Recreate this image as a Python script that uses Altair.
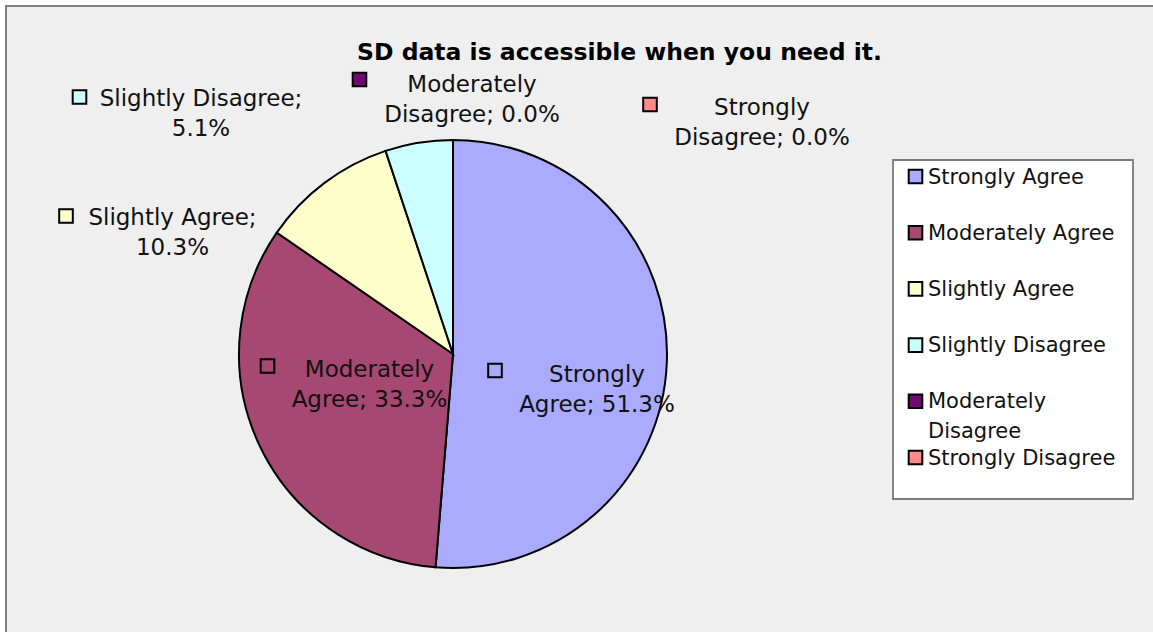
import altair as alt
import pandas as pd

# ---------------- data ----------------
categories = ["Strongly Agree", "Moderately Agree", "Slightly Agree",
              "Slightly Disagree", "Moderately Disagree", "Strongly Disagree"]
percents = [51.3, 33.3, 10.3, 5.1, 0.0, 0.0]
colors = ["#aaaaff", "#a64872", "#ffffcc", "#ccffff", "#6e0a70", "#ff8a8a"]
title_text = "SD data is accessible when you need it."

# ---------------- layout ----------------
W, H = 1153, 632
PIE_CX, PIE_CY, PIE_R = 453, 354, 214
FONT = "DejaVu Sans"
TEXT_COLOR = "#111111"
# words on the first line of each data label
label_break = [1, 1, 2, 2, 1, 1]
# per label: marker x, marker y, text centre x, first line y
label_pos = [
    (495, 370.5, 597, 375),
    (267.5, 366, 369.5, 369.5),
    (66, 216, 172.5, 218),
    (79.5, 97, 201, 99),
    (359.5, 79.5, 472, 84.5),
    (650, 104.5, 762, 108),
]
LINE_GAP = 30
LEG_BOX = (893, 160, 1133, 499)
LEG_SYM_X, LEG_TXT_X, LEG_Y0, LEG_STEP, LEG_LINE = 915.5, 928, 176.5, 56.2, 29.5
LEG_WRAP = {"Moderately Disagree": ["Moderately", "Disagree"]}
MARK_SIZE = 185

# ---------------- tables ----------------
pie_df = pd.DataFrame({"cat": categories, "pct": percents, "idx": list(range(len(categories)))})

marker_rows, line_rows = [], []
for i, (c, p) in enumerate(zip(categories, percents)):
    words = f"{c}; {p:.1f}%".split(" ")
    b = label_break[i]
    lines = [" ".join(words[:b]), " ".join(words[b:])]
    mx, my, tx, ty = label_pos[i]
    marker_rows.append({"cat": c, "mx": mx, "my": my})
    for k, ln in enumerate(lines):
        line_rows.append({"cat": c, "txt": ln, "tx": tx, "ty": ty + k * LINE_GAP})
marker_df = pd.DataFrame(marker_rows)
line_df = pd.DataFrame(line_rows)

leg_sym_rows, leg_txt_rows = [], []
for i, c in enumerate(categories):
    y = LEG_Y0 + i * LEG_STEP
    leg_sym_rows.append({"cat": c, "sx": LEG_SYM_X, "sy": y})
    for k, ln in enumerate(LEG_WRAP.get(c, [c])):
        leg_txt_rows.append({"txt": ln, "tx": LEG_TXT_X, "ty": y + 1 + k * LEG_LINE})
leg_sym_df = pd.DataFrame(leg_sym_rows)
leg_txt_df = pd.DataFrame(leg_txt_rows)

color_scale = alt.Scale(domain=categories, range=colors)
one = pd.DataFrame({"a": [0]})

frame = alt.Chart(one).mark_rect(fill="#efefef", stroke="#808080", strokeWidth=2).encode(
    x=alt.value(6), x2=alt.value(W + 20), y=alt.value(6), y2=alt.value(H + 20))

pie = alt.Chart(pie_df).mark_arc(outerRadius=PIE_R, stroke="#000000", strokeWidth=2).encode(
    theta=alt.Theta("pct:Q", stack=True),
    color=alt.Color("cat:N", scale=color_scale, legend=None),
    order=alt.Order("idx:Q"),
    x=alt.value(PIE_CX), y=alt.value(PIE_CY))

markers = alt.Chart(marker_df).mark_square(size=MARK_SIZE, stroke="#000000", strokeWidth=2, opacity=1).encode(
    x=alt.X("mx:Q", scale=None), y=alt.Y("my:Q", scale=None),
    color=alt.Color("cat:N", scale=color_scale, legend=None))

labels = alt.Chart(line_df).mark_text(font=FONT, fontSize=23, align="center", baseline="middle",
                                      color=TEXT_COLOR).encode(
    x=alt.X("tx:Q", scale=None), y=alt.Y("ty:Q", scale=None), text="txt:N")

title = alt.Chart(one).mark_text(font=FONT, fontSize=23.5, fontWeight="bold", align="center",
                                 baseline="middle", color="#000000").encode(
    x=alt.value(619.5), y=alt.value(53.4), text=alt.value(title_text))

leg_box = alt.Chart(one).mark_rect(fill="#ffffff", stroke="#7a7a7a", strokeWidth=1.8).encode(
    x=alt.value(LEG_BOX[0]), y=alt.value(LEG_BOX[1]), x2=alt.value(LEG_BOX[2]), y2=alt.value(LEG_BOX[3]))

leg_sym = alt.Chart(leg_sym_df).mark_square(size=MARK_SIZE, stroke="#000000", strokeWidth=2, opacity=1).encode(
    x=alt.X("sx:Q", scale=None), y=alt.Y("sy:Q", scale=None),
    color=alt.Color("cat:N", scale=color_scale, legend=None))

leg_txt = alt.Chart(leg_txt_df).mark_text(font=FONT, fontSize=21, align="left", baseline="middle",
                                          color=TEXT_COLOR).encode(
    x=alt.X("tx:Q", scale=None), y=alt.Y("ty:Q", scale=None), text="txt:N")

chart = alt.layer(frame, pie, markers, labels, title, leg_box, leg_sym, leg_txt).properties(
    width=W, height=H, autosize="none", padding=0, background="#ffffff"
).configure_view(stroke=None)

chart.save("out.html", embed_options={"renderer": "svg", "actions": False})
